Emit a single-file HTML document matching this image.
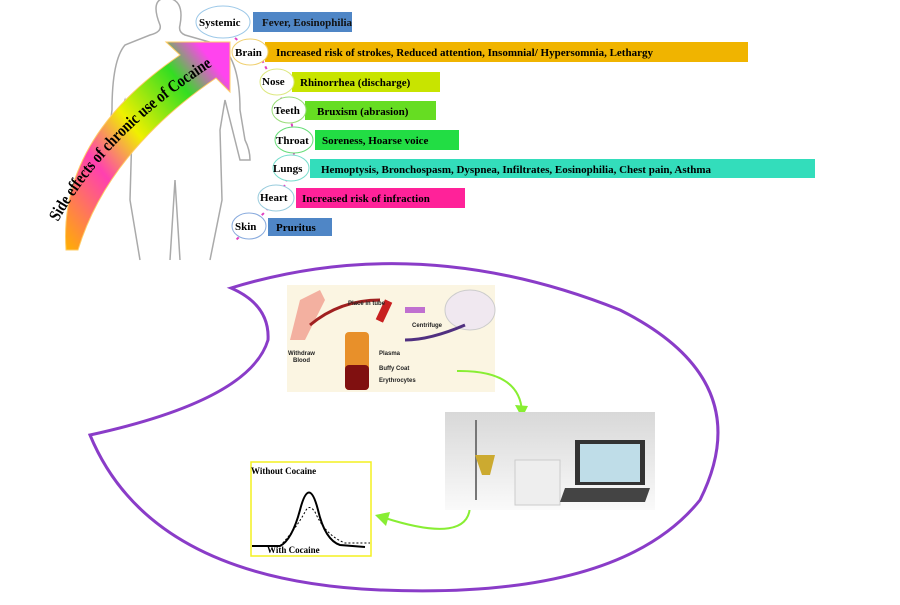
<!DOCTYPE html>
<html><head><meta charset="utf-8"><style>
body{margin:0;background:#fff;width:900px;height:600px;overflow:hidden;font-family:"Liberation Serif",serif;}
</style></head><body>
<svg width="900" height="600" viewBox="0 0 900 600" xmlns="http://www.w3.org/2000/svg">
<defs>
<linearGradient id="ag" x1="0" y1="1" x2="1" y2="0">
<stop offset="0" stop-color="#ffb000"/><stop offset="0.3" stop-color="#ff40b0"/><stop offset="0.5" stop-color="#f0f000"/><stop offset="0.75" stop-color="#33dd22"/><stop offset="0.9" stop-color="#ff44ee"/></linearGradient>
<linearGradient id="ph" x1="0" y1="0" x2="0" y2="1"><stop offset="0" stop-color="#d8d8d8"/><stop offset="1" stop-color="#fafafa"/></linearGradient>
<path id="tp" d="M58,222 Q110,128 225,58"/>
</defs>
<g fill="none" stroke="#aaa" stroke-width="1.5">
<path d="M160,25 Q150,0 165,-2 Q185,-2 180,25 Q178,32 185,35 L220,45 Q240,60 240,110 L245,140 Q250,150 250,160 L240,160 L235,140 L225,100 L220,130 L222,200 L210,260 M160,25 Q162,32 150,35 L125,45 Q112,60 112,110 L108,140 L100,170 L108,165 L118,120 L125,100 L132,130 L130,200 L140,260 M175,180 L170,260 M175,180 L180,260"/>
</g>
<path d="M66,250 Q58,138 180,55 L166,42 L230,42 L230,92 L216,78 Q108,152 78,250 Z" fill="url(#ag)" stroke="#ffcc66" stroke-width="1"/>
<text font-family="Liberation Serif,serif" font-weight="bold" font-size="17" fill="#000"><textPath href="#tp" textLength="222" lengthAdjust="spacingAndGlyphs">Side effects of chronic use of Cocaine</textPath></text>
<path d="M235,38 L262,60 L280,95 L292,125 L294,155 L285,185 L265,212 L236,240" fill="none" stroke="#e040c0" stroke-width="2" stroke-dasharray="3,4"/>
<g font-family="Liberation Serif,serif" font-weight="bold" font-size="11">
<rect x="253" y="12" width="99" height="20" fill="#4f86c6"/><text x="262" y="26" fill="#111">Fever, Eosinophilia</text>
<rect x="265" y="42" width="483" height="20" fill="#f0b400"/><text x="276" y="56">Increased  risk of strokes, Reduced attention, Insomnial/ Hypersomnia, Lethargy</text>
<rect x="292" y="72" width="148" height="20" fill="#c8e400"/><text x="300" y="86">Rhinorrhea (discharge)</text>
<rect x="305" y="101" width="131" height="19" fill="#66dd22"/><text x="317" y="115">Bruxism (abrasion)</text>
<rect x="315" y="130" width="144" height="20" fill="#22dd44"/><text x="322" y="144">Soreness, Hoarse voice</text>
<rect x="310" y="159" width="505" height="19" fill="#33ddbb"/><text x="321" y="173">Hemoptysis, Bronchospasm, Dyspnea, Infiltrates, Eosinophilia, Chest pain, Asthma</text>
<rect x="296" y="188" width="169" height="20" fill="#ff2299"/><text x="302" y="202">Increased  risk of infraction</text>
<rect x="268" y="218" width="64" height="18" fill="#4f86c6"/><text x="276" y="231">Pruritus</text>
<ellipse cx="223" cy="22" rx="27" ry="16" fill="#fff" stroke="#9cc8e8"/><text x="199" y="26">Systemic</text>
<ellipse cx="250" cy="52" rx="18" ry="13" fill="#fff" stroke="#f0d070"/><text x="235" y="56">Brain</text>
<ellipse cx="277" cy="82" rx="17" ry="13" fill="#fff" stroke="#dde880"/><text x="262" y="85">Nose</text>
<ellipse cx="289" cy="110" rx="17" ry="13" fill="#fff" stroke="#99dd77"/><text x="274" y="114">Teeth</text>
<ellipse cx="294" cy="140" rx="19" ry="13" fill="#fff" stroke="#66dd77"/><text x="276" y="144">Throat</text>
<ellipse cx="291" cy="168" rx="18" ry="13" fill="#fff" stroke="#77ddcc"/><text x="273" y="172">Lungs</text>
<ellipse cx="276" cy="198" rx="18" ry="13" fill="#fff" stroke="#99ccdd"/><text x="260" y="201">Heart</text>
<ellipse cx="249" cy="226" rx="17" ry="13" fill="#fff" stroke="#88aadd"/><text x="235" y="230">Skin</text>
</g>
<path d="M231,288 Q420,230 620,310 Q760,380 700,500 Q620,600 380,590 Q150,580 90,435 Q250,400 268,340 Q270,305 231,288 Z" fill="none" stroke="#8a3cc8" stroke-width="3"/>
<rect x="287" y="285" width="208" height="107" fill="#fbf5e2"/>
<path d="M290,340 L300,300 L320,290 L325,300 L305,340 Z" fill="#f3b0a0"/>
<path d="M310,325 Q340,300 380,300" fill="none" stroke="#a02020" stroke-width="3"/>
<rect x="380" y="300" width="8" height="22" fill="#c82020" transform="rotate(25 384 311)"/>
<path d="M405,310 L425,310" stroke="#c070d0" stroke-width="6"/>
<ellipse cx="470" cy="310" rx="25" ry="20" fill="#f0e8f0" stroke="#ccc"/>
<path d="M465,325 Q430,340 405,340" stroke="#503080" stroke-width="3" fill="none"/>
<rect x="345" y="332" width="24" height="58" rx="4" fill="#e8902a"/><rect x="345" y="365" width="24" height="25" rx="4" fill="#801010"/>
<g font-family="Liberation Sans,sans-serif" font-size="6" font-weight="bold" fill="#222"><text x="348" y="305">Place in tube</text><text x="412" y="327">Centrifuge</text><text x="288" y="355">Withdraw</text><text x="293" y="362">Blood</text><text x="379" y="355">Plasma</text><text x="379" y="370">Buffy Coat</text><text x="379" y="382">Erythrocytes</text></g>
<path d="M457,371 Q520,370 522,412" fill="none" stroke="#88ee33" stroke-width="2"/><path d="M515,405 L522,418 L528,406" fill="#88ee33"/>
<path d="M470,505 Q470,545 385,518" fill="none" stroke="#88ee33" stroke-width="2"/><path d="M375,515 L390,512 L386,526 Z" fill="#88ee33"/>
<rect x="445" y="412" width="210" height="98" fill="url(#ph)"/>
<rect x="475" y="420" width="2" height="80" fill="#777"/>
<path d="M475,455 L495,455 L490,475 L482,475 Z" fill="#ccaa30"/>
<rect x="515" y="460" width="45" height="45" fill="#eee" stroke="#ccc"/>
<rect x="575" y="440" width="70" height="45" fill="#333"/><rect x="580" y="444" width="60" height="38" fill="#bfdde8"/>
<path d="M565,488 L650,488 L645,502 L560,502 Z" fill="#444"/>
<rect x="251" y="462" width="120" height="94" fill="#fff" stroke="#f4f020" stroke-width="1.5"/>
<text x="251" y="474" font-size="9" font-weight="bold" font-family="Liberation Serif,serif">Without Cocaine</text>
<path d="M252,546 L280,546 Q292,540 300,510 Q309,475 318,510 Q325,540 340,545 L365,547" fill="none" stroke="#000" stroke-width="2"/>
<path d="M280,546 Q295,530 305,512 Q309,503 315,512 Q325,535 345,543 L370,543" fill="none" stroke="#000" stroke-width="1" stroke-dasharray="2,2"/>
<text x="267" y="553" font-size="9" font-weight="bold" font-family="Liberation Serif,serif">With Cocaine</text>
</svg>
</body></html>
